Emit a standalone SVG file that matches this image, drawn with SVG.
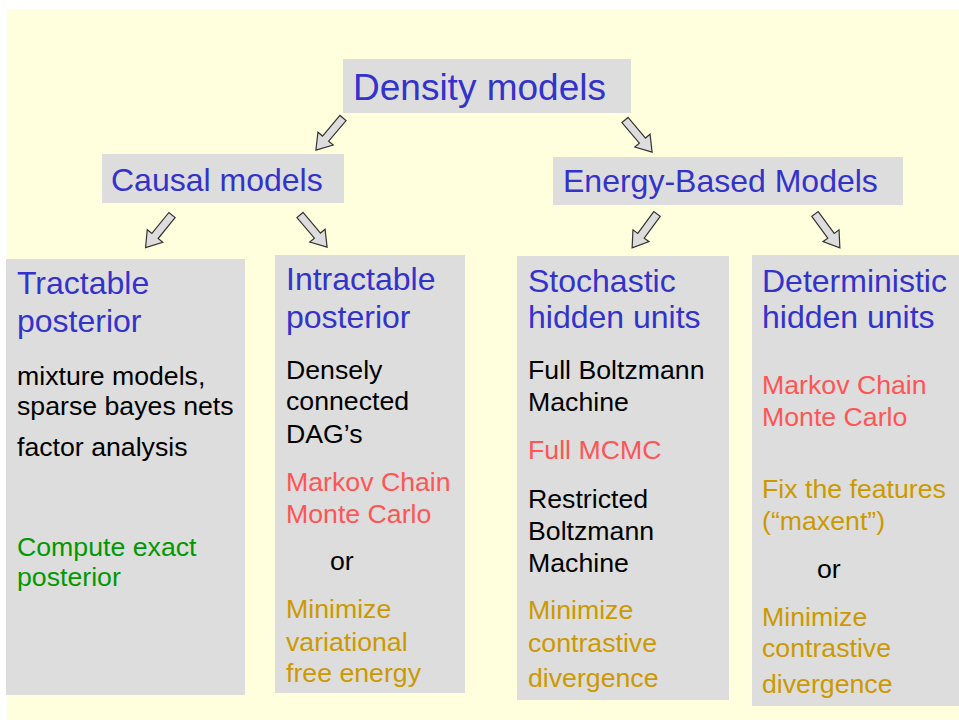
<svg xmlns="http://www.w3.org/2000/svg" width="959" height="720" viewBox="0 0 959 720">
<defs>
<style>
text{font-family:"Liberation Sans",Arial,sans-serif;}
.box{fill:#DDDDDD;}
.h1{font-size:37px;fill:#3333CC;}
.h2{font-size:32px;fill:#3333CC;}
.b{font-size:26.7px;fill:#000000;}
.r{font-size:26.7px;fill:#FF5555;}
.g{font-size:26.7px;fill:#CC9900;}
.gr{font-size:26.7px;fill:#009900;}
.arr{fill:#DDDDDD;stroke:#333333;stroke-width:1.2;stroke-linejoin:miter;}
</style>
<polygon id="ba" points="0,-4 27,-4 27,-10 42,0 27,10 27,4 0,4"/>
</defs>
<rect x="0" y="0" width="959" height="720" fill="#FFFFFF"/>
<rect x="7" y="9" width="952" height="711" fill="#FFFFDD"/>

<g id="connectors">
<use href="#ba" class="arr" transform="translate(343,118) rotate(130.2)"/>
<use href="#ba" class="arr" transform="translate(625,120) rotate(49.8)"/>
<use href="#ba" class="arr" transform="translate(172,215) rotate(129)"/>
<use href="#ba" class="arr" transform="translate(300,215) rotate(49.8)"/>
<use href="#ba" class="arr" transform="translate(657,214) rotate(126.3)"/>
<use href="#ba" class="arr" transform="translate(815,214) rotate(53.7)"/>
</g>

<g id="density">
<rect class="box" x="343" y="59" width="288" height="54"/>
<text class="h1" x="353" y="100">Density models</text>
</g>

<g id="causal">
<rect class="box" x="102" y="154" width="242" height="49"/>
<text class="h2" x="111" y="191">Causal models</text>
</g>

<g id="energy">
<rect class="box" x="553" y="157" width="350" height="48"/>
<text class="h2" x="563" y="192">Energy-Based Models</text>
</g>

<g id="tractable">
<rect class="box" x="6" y="259" width="239" height="436"/>
<text class="h2" x="17" y="294">Tractable</text>
<text class="h2" x="17" y="332">posterior</text>
<text class="b" x="17" y="385">mixture models,</text>
<text class="b" x="17" y="415">sparse bayes nets</text>
<text class="b" x="17" y="456">factor analysis</text>
<text class="gr" x="17" y="556">Compute exact</text>
<text class="gr" x="17" y="586">posterior</text>
</g>

<g id="intractable">
<rect class="box" x="275" y="255" width="190" height="438"/>
<text class="h2" x="286" y="290">Intractable</text>
<text class="h2" x="286" y="328">posterior</text>
<text class="b" x="286" y="379">Densely</text>
<text class="b" x="286" y="410">connected</text>
<text class="b" x="286" y="443">DAG’s</text>
<text class="r" x="286" y="491">Markov Chain</text>
<text class="r" x="286" y="523">Monte Carlo</text>
<text class="b" x="330" y="570">or</text>
<text class="g" x="286" y="618">Minimize</text>
<text class="g" x="286" y="651">variational</text>
<text class="g" x="286" y="682">free energy</text>
</g>

<g id="stochastic">
<rect class="box" x="517" y="256" width="212" height="444"/>
<text class="h2" x="528" y="292">Stochastic</text>
<text class="h2" x="528" y="328">hidden units</text>
<text class="b" x="528" y="379">Full Boltzmann</text>
<text class="b" x="528" y="411">Machine</text>
<text class="r" x="528" y="459">Full MCMC</text>
<text class="b" x="528" y="508">Restricted</text>
<text class="b" x="528" y="540">Boltzmann</text>
<text class="b" x="528" y="572">Machine</text>
<text class="g" x="528" y="619">Minimize</text>
<text class="g" x="528" y="652">contrastive</text>
<text class="g" x="528" y="687">divergence</text>
</g>

<g id="deterministic">
<rect class="box" x="752" y="255" width="207" height="451"/>
<text class="h2" x="762" y="292">Deterministic</text>
<text class="h2" x="762" y="328">hidden units</text>
<text class="r" x="762" y="394">Markov Chain</text>
<text class="r" x="762" y="426">Monte Carlo</text>
<text class="g" x="762" y="498">Fix the features</text>
<text class="g" x="762" y="530">(“maxent”)</text>
<text class="b" x="817" y="578">or</text>
<text class="g" x="762" y="626">Minimize</text>
<text class="g" x="762" y="657">contrastive</text>
<text class="g" x="762" y="693">divergence</text>
</g>
</svg>
